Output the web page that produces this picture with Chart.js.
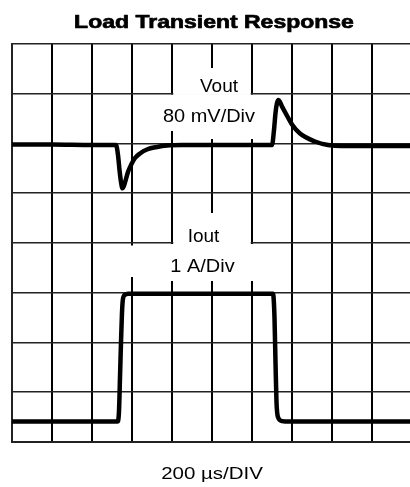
<!DOCTYPE html>
<html><head><meta charset="utf-8">
<script src="https://cdn.jsdelivr.net/npm/chart.js@4.4.1/dist/chart.umd.min.js"></script>
<style>
html,body{margin:0;padding:0;overflow:hidden;background:#fff;}
#wrap{position:relative;width:420px;height:487px;}
</style></head><body>
<div id="wrap"><canvas id="c"></canvas></div>
<script>
// ---- Data (time in µs, Vout deviation in mV, Iout in A) ----
const voutTime = [0,200,400,520,530,537.5,545,552.5,560,570,580,595,615,640,675,725,775,850,1000,1150,1300,1310,1317.5,1325,1332.5,1340,1350,1365,1400,1440,1515,1580,1650,1800,2000];
const voutMv   = [-1.6,-1.6,-2.4,-2.4,-18.5,-42.6,-62,-72,-68,-57,-45.8,-34.6,-23.3,-16,-9.6,-5.6,-3.2,-2.4,-2.4,-2.4,-2.4,21.7,49,65,70,66.7,59.5,50.7,30.6,16,3.2,-2.4,-4,-4,-4];
const ioutTime = [0,240,527.5,535,540,545,550,555,565,580,940,1305,1312.5,1317.5,1322.5,1330,1350,1390,1540,1740,2000];
const ioutAmp  = [0.41,0.41,0.41,0.62,1.3,2.0,2.6,2.88,2.96,2.98,2.98,2.98,2.5,1.6,0.8,0.5,0.42,0.41,0.41,0.41,0.41];
// Axis tick settings (divisions)
const xTicksUs = {min:0, max:2000, step:200};
const yTicksMv = {min:-480, max:160, step:80};
const yTicksA  = {min:0, max:8};
const TITLE = 'Load Transient Response';
const XLABEL = '200 \u00b5s/DIV';
const VLABEL = ['Vout','80 mV/Div'];
const ILABEL = ['Iout','1 A/Div'];

const pts = (xs, ys) => xs.map((x,i)=>({x:x, y:ys[i]}));

const gapPlugin = {
  id:'gaps',
  beforeDatasetsDraw(chart){
    const ctx = chart.ctx, xs = chart.scales.x, ys = chart.scales.y;
    const X = v => xs.getPixelForValue(v), Y = v => ys.getPixelForValue(v);
    const top = chart.chartArea.top;
    ctx.save(); ctx.fillStyle = '#fff';
    const r = (x0,y0,x1,y1)=>ctx.fillRect(x0,y0,x1-x0,y1-y0);
    // Vout label gap
    r(X(800)+1.3, top+24, X(1200)-1.3, Y(80)+1.2);
    r(X(800)-1.6, Y(80)+1.0, X(1200)+1.6, top+87);
    r(X(800)+1.3, top+86, X(1200)+1.6, top+95);
    // Iout label gap
    r(X(800)+1.3, top+169, X(1200)-1.3, Y(-160)+1.2);
    r(X(800)-1.6, Y(-160)+1.0, X(1200)+1.6, top+237);
    r(X(600)-1.6, Y(-160)+2.5, X(600)+1.6, top+233);
    ctx.restore();
  }
};

const textPlugin = {
  id:'texts',
  afterDraw(chart){
    const ctx = chart.ctx;
    const draw = (txt,font,cx,base,sx,stroke)=>{
      ctx.save(); ctx.font=font; ctx.fillStyle='#000'; ctx.strokeStyle='#000';
      ctx.textAlign='center'; ctx.textBaseline='alphabetic';
      ctx.translate(cx,base); ctx.scale(sx,1); ctx.fillText(txt,0,0);
      if (stroke) { ctx.lineWidth = stroke; ctx.lineJoin='round'; ctx.strokeText(txt,0,0); }
      ctx.restore();
    };
    const f = '"Liberation Sans", Arial, Helvetica, sans-serif';
    draw(TITLE,'bold 19px '+f,214,28,1.21,0.7);
    draw(VLABEL[0],'19px '+f,219,91.5,1.0,0);
    draw(VLABEL[1],'19px '+f,209,121.5,1.05,0);
    draw(ILABEL[0],'19px '+f,203.5,241.5,1.0,0);
    draw(ILABEL[1],'19px '+f,202.5,271.5,1.05,0);
    draw(XLABEL,'16px '+f,212,479,1.28,0);
  }
};

new Chart(document.getElementById('c'), {
  type:'line',
  data:{datasets:[
    {label:'Vout', data:pts(voutTime,voutMv), yAxisID:'y', borderColor:'#000', borderWidth:4.5,
     pointRadius:0, cubicInterpolationMode:'monotone', borderJoinStyle:'round', borderCapStyle:'round'},
    {label:'Iout', data:pts(ioutTime,ioutAmp), yAxisID:'yI', borderColor:'#000', borderWidth:4.5,
     pointRadius:0, cubicInterpolationMode:'monotone', borderJoinStyle:'round', borderCapStyle:'round'}
  ]},
  options:{
    responsive:true, maintainAspectRatio:false, animation:false,
    layout:{padding:{left:12,right:8,top:44,bottom:45}},
    plugins:{legend:{display:false}, title:{display:false}, tooltip:{enabled:false}},
    scales:{
      x:{type:'linear', min:xTicksUs.min, max:xTicksUs.max,
         ticks:{display:false, stepSize:xTicksUs.step},
         grid:{color:'#000', lineWidth:2, drawTicks:false},
         border:{display:true, color:'#222', width:2},
         afterFit(s){ s.height = 0; }},
      y:{type:'linear', min:yTicksMv.min, max:yTicksMv.max,
         ticks:{display:false, stepSize:yTicksMv.step},
         grid:{color:'#222', lineWidth:1.6, drawTicks:false},
         border:{display:true, color:'#222', width:2},
         afterFit(s){ s.width = 0; }},
      yI:{type:'linear', display:false, min:yTicksA.min, max:yTicksA.max}
    }
  },
  plugins:[gapPlugin, textPlugin]
});
</script>
</body></html>
